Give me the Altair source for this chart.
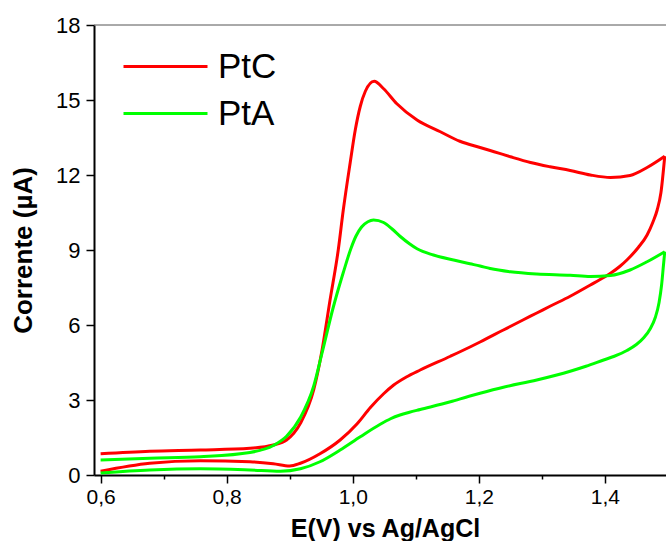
import altair as alt
import pandas as pd

# PtC forward (upper) branch
ptc_fwd_E = [0.600, 0.678, 0.758, 0.837, 0.874, 0.895, 0.917, 0.938, 0.951, 0.964, 0.977, 0.985,
             0.996, 1.004, 1.012, 1.020, 1.034, 1.049, 1.070, 1.102, 1.139, 1.170, 1.202, 1.218,
             1.250, 1.282, 1.313, 1.345, 1.377, 1.409, 1.440, 1.467, 1.495]
ptc_fwd_I = [0.85, 0.95, 1.00, 1.07, 1.20, 1.40, 2.07, 3.40, 4.95, 7.00, 9.00, 10.6,
             12.5, 13.8, 14.75, 15.35, 15.75, 15.45, 14.85, 14.2, 13.73, 13.35, 13.1, 12.98,
             12.73, 12.5, 12.33, 12.18, 12.0, 11.9, 11.98, 12.3, 12.75]
# PtC reverse (lower) branch
ptc_rev_E = [1.495, 1.489, 1.483, 1.476, 1.467, 1.453, 1.435, 1.424, 1.409, 1.398, 1.377, 1.345,
             1.313, 1.292, 1.270, 1.239, 1.202, 1.186, 1.155, 1.107, 1.085, 1.065, 1.049, 1.028,
             1.007, 0.980, 0.948, 0.917, 0.900, 0.874, 0.837, 0.758, 0.678, 0.600]
ptc_rev_I = [12.75, 11.3, 10.6, 10.1, 9.6, 9.1, 8.6, 8.35, 8.07, 7.9, 7.6, 7.15,
             6.75, 6.48, 6.2, 5.8, 5.32, 5.12, 4.75, 4.2, 3.92, 3.6, 3.25, 2.7,
             2.05, 1.4, 0.85, 0.47, 0.36, 0.45, 0.53, 0.57, 0.47, 0.15]
# PtA forward (upper) branch
pta_fwd_E = [0.600, 0.678, 0.758, 0.837, 0.874, 0.895, 0.917, 0.938, 0.951, 0.969, 0.985, 0.997,
             1.005, 1.014, 1.024, 1.033, 1.049, 1.062, 1.075, 1.090, 1.102, 1.128, 1.160, 1.186,
             1.202, 1.218, 1.250, 1.292, 1.345, 1.377, 1.409, 1.440, 1.467, 1.495]
pta_fwd_I = [0.60, 0.67, 0.73, 0.90, 1.18, 1.55, 2.30, 3.55, 4.85, 6.70, 8.1, 9.05,
             9.55, 9.92, 10.13, 10.2, 10.1, 9.85, 9.55, 9.25, 9.05, 8.8, 8.6, 8.45,
             8.36, 8.26, 8.13, 8.04, 7.99, 7.94, 7.98, 8.2, 8.53, 8.93]
# PtA reverse (lower) branch
pta_rev_E = [1.495, 1.493, 1.490, 1.486, 1.480, 1.472, 1.462, 1.450, 1.435, 1.415, 1.398, 1.370,
             1.345, 1.292, 1.239, 1.202, 1.186, 1.155, 1.107, 1.090, 1.075, 1.060, 1.043, 1.012,
             0.980, 0.948, 0.917, 0.885, 0.837, 0.758, 0.678, 0.600]
pta_rev_I = [8.93, 8.4, 7.6, 6.9, 6.3, 5.85, 5.5, 5.22, 4.98, 4.75, 4.6, 4.35,
             4.15, 3.8, 3.51, 3.27, 3.16, 2.93, 2.62, 2.51, 2.40, 2.25, 2.02, 1.53,
             1.0, 0.53, 0.25, 0.15, 0.2, 0.25, 0.2, 0.08]

series_names = ["PtC", "PtA"]
series_colors = ["#ff0000", "#00ff00"]
x_ticks = [0.6, 0.7, 0.8, 0.9, 1.0, 1.1, 1.2, 1.3, 1.4]
y_ticks = [0, 1.5, 3, 4.5, 6, 7.5, 9, 10.5, 12, 13.5, 15, 16.5, 18]

rows = []
def add(series, branch, Es, Is):
    for k, (e, i) in enumerate(zip(Es, Is)):
        rows.append({"series": series, "branch": series + "_" + branch, "idx": k, "E": e, "I": i})

add("PtC", "fwd", ptc_fwd_E, ptc_fwd_I)
add("PtC", "rev", ptc_rev_E, ptc_rev_I)
add("PtA", "fwd", pta_fwd_E, pta_fwd_I)
add("PtA", "rev", pta_rev_E, pta_rev_I)
df = pd.DataFrame(rows)

FONT = "Liberation Sans"

x_axis = alt.Axis(
    values=x_ticks,
    labelExpr="round(datum.value*10) % 2 == 0 ? replace(format(datum.value, '.1f'), '.', ',') : ''",
    tickSize={"condition": {"test": "round(datum.value*10) % 2 == 0", "value": 8}, "value": 4},
    title="E(V) vs Ag/AgCl",
    titleX=291, titleY=61, titleBaseline="alphabetic", titleAlign="center",
    titleFont=FONT, titleFontSize=25, titleFontWeight="bold", titleColor="black",
    labelFont=FONT, labelFontSize=21, labelColor="black", labelPadding=3, labelFlush=False,
    grid=False, domainColor="black", domainWidth=2, tickColor="black", tickWidth=1.5,
)
y_axis = alt.Axis(
    values=y_ticks,
    labelExpr="datum.value % 3 == 0 ? format(datum.value, 'd') : ''",
    tickSize={"condition": {"test": "datum.value % 3 == 0", "value": 8}, "value": 4},
    title="Corrente (µA)",
    titleX=-63, titleY=225, titleBaseline="alphabetic", titleAlign="center", titleAngle=270,
    titleFont=FONT, titleFontSize=26, titleFontWeight="bold", titleColor="black",
    labelFont=FONT, labelFontSize=22, labelColor="black", labelPadding=6, labelFlush=False,
    grid=False, domainColor="black", domainWidth=2, tickColor="black", tickWidth=1.5,
)

lines = alt.Chart(df).mark_line(strokeWidth=3, interpolate="monotone", clip=True).encode(
    x=alt.X("E:Q", scale=alt.Scale(domain=[0.5895, 1.497], nice=False, zero=False), axis=x_axis),
    y=alt.Y("I:Q", scale=alt.Scale(domain=[0, 18], nice=False, zero=False), axis=y_axis),
    color=alt.Color(
        "series:N",
        scale=alt.Scale(domain=series_names, range=series_colors),
        legend=alt.Legend(
            title=None, orient="none", legendX=54, legendY=24,
            symbolType="M-4,0H4", symbolSize=441, symbolStrokeWidth=3,
            labelFont=FONT, labelFontSize=35, labelColor="black", labelOffset=35,
            rowPadding=11, padding=0, labelBaseline="middle",
        ),
    ),
    detail="branch:N",
    order="idx:Q",
)

top_line = alt.Chart(pd.DataFrame({"a": [0]})).mark_rule(color="#555555", strokeWidth=1).encode(
    y=alt.datum(18)
)

chart = alt.layer(lines, top_line).properties(
    width=572, height=450,
    padding={"left": 94, "top": 25, "right": 0, "bottom": 66},
    autosize=alt.AutoSizeParams(type="none"),
    background="white",
).configure_view(stroke=None)

chart.save("out.html", embed_options={"renderer": "svg", "actions": False})
